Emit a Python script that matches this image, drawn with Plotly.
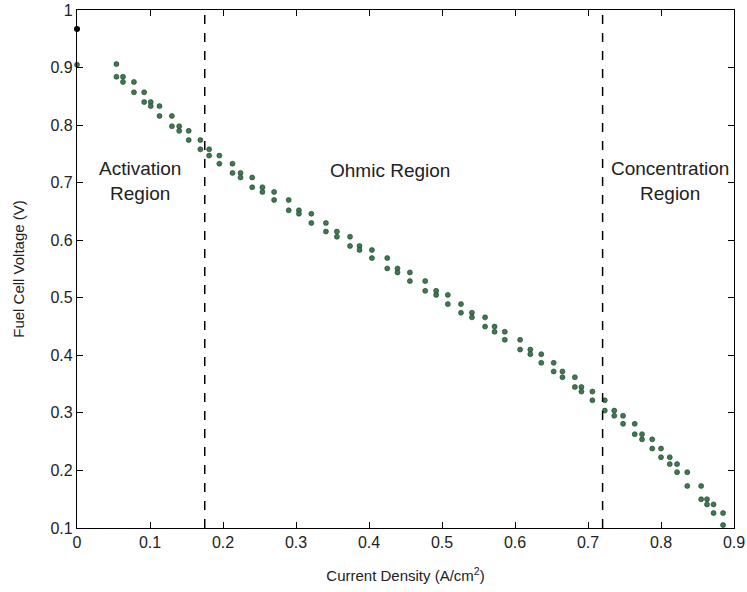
import plotly.graph_objects as go

# Sampled operating points: current density (A/cm^2) and cell voltage (V).
# Each current sample is plotted with its voltage and the next voltage sample.
current = [0.054, 0.063, 0.078, 0.092, 0.101, 0.113, 0.130, 0.140, 0.153, 0.169,
           0.181, 0.195, 0.213, 0.224, 0.240, 0.254, 0.270, 0.290, 0.304, 0.321,
           0.341, 0.356, 0.374, 0.387, 0.404, 0.425, 0.439, 0.456, 0.477, 0.492,
           0.508, 0.526, 0.541, 0.559, 0.572, 0.586, 0.607, 0.621, 0.636, 0.653,
           0.665, 0.682, 0.691, 0.706, 0.723, 0.736, 0.748, 0.764, 0.774, 0.788,
           0.800, 0.812, 0.822, 0.836, 0.855, 0.863, 0.872, 0.885]
voltage = [0.906, 0.884, 0.875, 0.857, 0.840, 0.833, 0.816, 0.798, 0.790, 0.774,
           0.758, 0.747, 0.733, 0.717, 0.709, 0.692, 0.684, 0.670, 0.652, 0.646,
           0.630, 0.615, 0.606, 0.590, 0.583, 0.569, 0.551, 0.544, 0.529, 0.512,
           0.505, 0.489, 0.474, 0.466, 0.450, 0.441, 0.427, 0.410, 0.402, 0.387,
           0.372, 0.362, 0.345, 0.337, 0.322, 0.304, 0.295, 0.281, 0.263, 0.254,
           0.238, 0.223, 0.211, 0.197, 0.173, 0.150, 0.141, 0.126, 0.105]

open_circuit_x = [0.0]
open_circuit_v = [0.967]
start_x = [0.0]
start_v = [0.905]

region_bounds = [0.175, 0.72]
region_labels = ["Activation<br>Region", "Ohmic Region", "Concentration<br>Region"]
region_label_x = [0.086, 0.429, 0.812]
region_label_y = [0.703, 0.722, 0.703]

x_ticks = [0, 0.1, 0.2, 0.3, 0.4, 0.5, 0.6, 0.7, 0.8, 0.9]
x_tick_text = ["0", "0.1", "0.2", "0.3", "0.4", "0.5", "0.6", "0.7", "0.8", "0.9"]
y_ticks = [0.1, 0.2, 0.3, 0.4, 0.5, 0.6, 0.7, 0.8, 0.9, 1.0]
y_tick_text = ["0.1", "0.2", "0.3", "0.4", "0.5", "0.6", "0.7", "0.8", "0.9", "1"]

green = "#3d7a50"
edge = "#1e3d28"
font = "Liberation Sans, Arial, sans-serif"

xs = []
ys = []
for i, c in enumerate(current):
    xs += [c, c]
    ys += [voltage[i], voltage[i + 1]]

fig = go.Figure()
fig.add_trace(go.Scatter(x=xs, y=ys, mode="markers",
                         marker=dict(size=5, color=green, symbol="circle",
                                     line=dict(width=0.6, color=edge)),
                         showlegend=False, cliponaxis=False))
fig.add_trace(go.Scatter(x=start_x, y=start_v, mode="markers",
                         marker=dict(size=5, color=green, line=dict(width=0.6, color=edge)),
                         showlegend=False, cliponaxis=False))
fig.add_trace(go.Scatter(x=open_circuit_x, y=open_circuit_v, mode="markers",
                         marker=dict(size=6, color="black"),
                         showlegend=False, cliponaxis=False))

for b in region_bounds:
    fig.add_shape(type="line", x0=b, x1=b, y0=0.1, y1=1.0, xref="x", yref="y",
                  line=dict(color="black", width=1.5, dash="dash"))

for t, x, y in zip(region_labels, region_label_x, region_label_y):
    fig.add_annotation(x=x, y=y, text=t, showarrow=False, xref="x", yref="y",
                       font=dict(family=font, size=19, color="#222222"))

axis_common = dict(showgrid=False, zeroline=False, showline=True, linecolor="black",
                   linewidth=1.2, mirror="ticks", ticks="inside", ticklen=6,
                   tickcolor="black", tickwidth=1.2, automargin=False,
                   tickfont=dict(family=font, size=16, color="#222222"))

fig.update_xaxes(range=[0, 0.9], tickvals=x_ticks, ticktext=x_tick_text,
                 title=dict(text="Current Density (A/cm<sup>2</sup>)",
                            font=dict(family=font, size=15, color="#222222"), standoff=20),
                 **axis_common)
fig.update_yaxes(range=[0.1, 1.0], tickvals=y_ticks, ticktext=y_tick_text,
                 title=dict(text="Fuel Cell Voltage (V)",
                            font=dict(family=font, size=15, color="#222222"), standoff=22),
                 **axis_common)

fig.update_layout(width=747, height=592, margin=dict(l=77, r=13, t=10, b=64),
                  paper_bgcolor="white", plot_bgcolor="white")

fig.write_html("out.html")
